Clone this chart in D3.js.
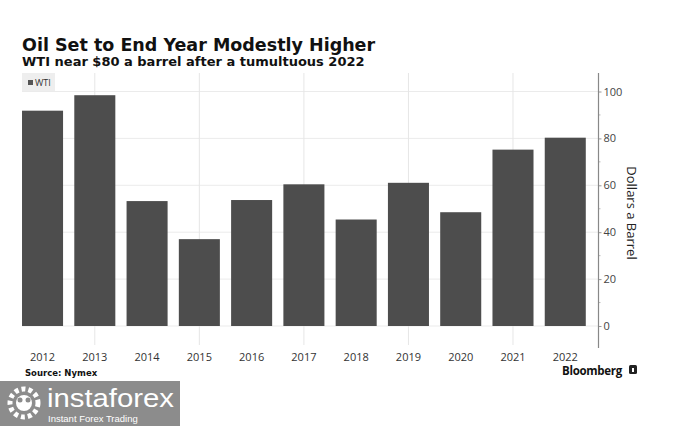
<!DOCTYPE html>
<html><head><meta charset="utf-8">
<script src="https://cdn.jsdelivr.net/npm/d3@7"></script>
<style>html,body{margin:0;padding:0;background:#fff;}svg{display:block;}</style>
</head><body><svg id="c" width="675" height="426"></svg>
<script>
const years = ["2012","2013","2014","2015","2016","2017","2018","2019","2020","2021","2022"];
const wti = [91.82, 98.42, 53.27, 37.04, 53.72, 60.42, 45.41, 61.06, 48.52, 75.21, 80.3];
const yTicks = [0, 20, 40, 60, 80, 100];
const yMinor = [10, 30, 50, 70, 90];
const gridYears = ["2013","2015","2017","2019","2021"];
const title = "Oil Set to End Year Modestly Higher";
const subtitle = "WTI near $80 a barrel after a tumultuous 2022";
const seriesName = "WTI";
const yLabel = "Dollars a Barrel";
const source = "Source: Nymex";

const svg = d3.select("#c");
const x = d3.scaleBand().domain(years).range([16.4, 591.4]).paddingInner(0.215).paddingOuter(0.1075);
const y = d3.scaleLinear().domain([0, 100]).range([326, 91.5]);
const axisX = 598.5;
const bold = "'DejaVu Sans', sans-serif";
const reg = "'Open Sans', 'Liberation Sans', sans-serif";

// title
svg.append("text").attr("x", 22).attr("y", 51).attr("font-family", bold).attr("font-weight", "bold")
  .attr("font-size", 17.5).attr("fill", "#111").text(title);
svg.append("text").attr("x", 22).attr("y", 65.5).attr("font-family", bold).attr("font-weight", "bold")
  .attr("font-size", 13).attr("fill", "#111").text(subtitle);

// legend
svg.append("rect").attr("x", 22).attr("y", 73).attr("width", 33).attr("height", 19).attr("fill", "#eeeeee");
svg.append("rect").attr("x", 28).attr("y", 80).attr("width", 5).attr("height", 5).attr("fill", "#555");
svg.append("text").attr("x", 35).attr("y", 86).attr("font-family", reg).attr("font-size", 9).attr("fill", "#333").text(seriesName);

// gridlines
svg.append("g").selectAll("line").data(yTicks).join("line")
  .attr("x1", 22).attr("x2", axisX).attr("y1", d => y(d)).attr("y2", d => y(d))
  .attr("stroke", "#ebebeb").attr("stroke-width", 1);
svg.append("g").selectAll("line").data(gridYears).join("line")
  .attr("x1", d => x(d) + x.bandwidth()/2).attr("x2", d => x(d) + x.bandwidth()/2)
  .attr("y1", 73).attr("y2", 345)
  .attr("stroke", "#e6e6e6").attr("stroke-width", 1);

// bars
svg.append("g").selectAll("rect").data(years).join("rect")
  .attr("x", d => x(d)).attr("width", x.bandwidth())
  .attr("y", (d, i) => y(wti[i])).attr("height", (d, i) => y(0) - y(wti[i]))
  .attr("fill", "#4d4d4d");

// right axis
const ax = svg.append("g").attr("transform", `translate(${axisX},0)`)
  .call(d3.axisRight(y).tickValues(yTicks).tickSize(3).tickPadding(2));
ax.select(".domain").remove();
ax.selectAll("line").attr("stroke", "#999");
ax.selectAll("text").attr("font-family", reg).attr("font-size", 11).attr("fill", "#444");
svg.append("g").selectAll("line").data(yMinor).join("line")
  .attr("x1", axisX).attr("x2", axisX + 2).attr("y1", d => y(d)).attr("y2", d => y(d)).attr("stroke", "#bbb");
svg.append("line").attr("x1", axisX).attr("x2", axisX).attr("y1", 73).attr("y2", 348).attr("stroke", "#888").attr("stroke-width", 1.2);
svg.append("text").attr("transform", `translate(627,213) rotate(90)`).attr("text-anchor", "middle")
  .attr("font-family", reg).attr("font-size", 13).attr("fill", "#222").text(yLabel);

// bottom axis labels
const bx = svg.append("g").attr("transform", "translate(0,347)")
  .call(d3.axisBottom(x).tickSize(0).tickPadding(6));
bx.select(".domain").remove();
bx.selectAll("text").attr("font-family", reg).attr("font-size", 11).attr("fill", "#333");

// source & brand
svg.append("text").attr("x", 25).attr("y", 375.5).attr("font-family", bold).attr("font-weight", "bold")
  .attr("font-size", 8.5).attr("fill", "#111").text(source);
svg.append("text").attr("x", 562).attr("y", 375).attr("font-family", reg).attr("font-weight", "bold")
  .attr("font-size", 11.5).attr("fill", "#111").attr("letter-spacing", -0.3).text("Bloomberg");
svg.append("rect").attr("x", 629).attr("y", 365).attr("width", 8).attr("height", 9).attr("rx", 1.5).attr("fill", "#222");
svg.append("rect").attr("x", 632).attr("y", 368).attr("width", 2).attr("height", 4).attr("fill", "#fff");

// watermark
const wm = svg.append("g");
wm.append("rect").attr("x", 0).attr("y", 381).attr("width", 180).attr("height", 45).attr("fill", "#8c8c8c");
wm.append("circle").attr("cx", 24).attr("cy", 403).attr("r", 14).attr("fill", "none").attr("stroke", "#fff").attr("stroke-width", 5).attr("stroke-dasharray", "4 3");
wm.append("circle").attr("cx", 24).attr("cy", 403).attr("r", 8).attr("fill", "#fff");
wm.append("circle").attr("cx", 20).attr("cy", 400).attr("r", 2.5).attr("fill", "#8c8c8c");
wm.append("circle").attr("cx", 28).attr("cy", 400).attr("r", 2.5).attr("fill", "#8c8c8c");
wm.append("text").attr("x", 47).attr("y", 407).attr("font-family", "'Liberation Sans', sans-serif")
  .attr("font-size", 26).attr("fill", "#fff").attr("textLength", 127).attr("lengthAdjust", "spacingAndGlyphs").text("instaforex");
wm.append("text").attr("x", 48).attr("y", 422).attr("font-family", "'Liberation Sans', sans-serif")
  .attr("font-size", 9.5).attr("fill", "#fff").text("Instant Forex Trading");
</script></body></html>
